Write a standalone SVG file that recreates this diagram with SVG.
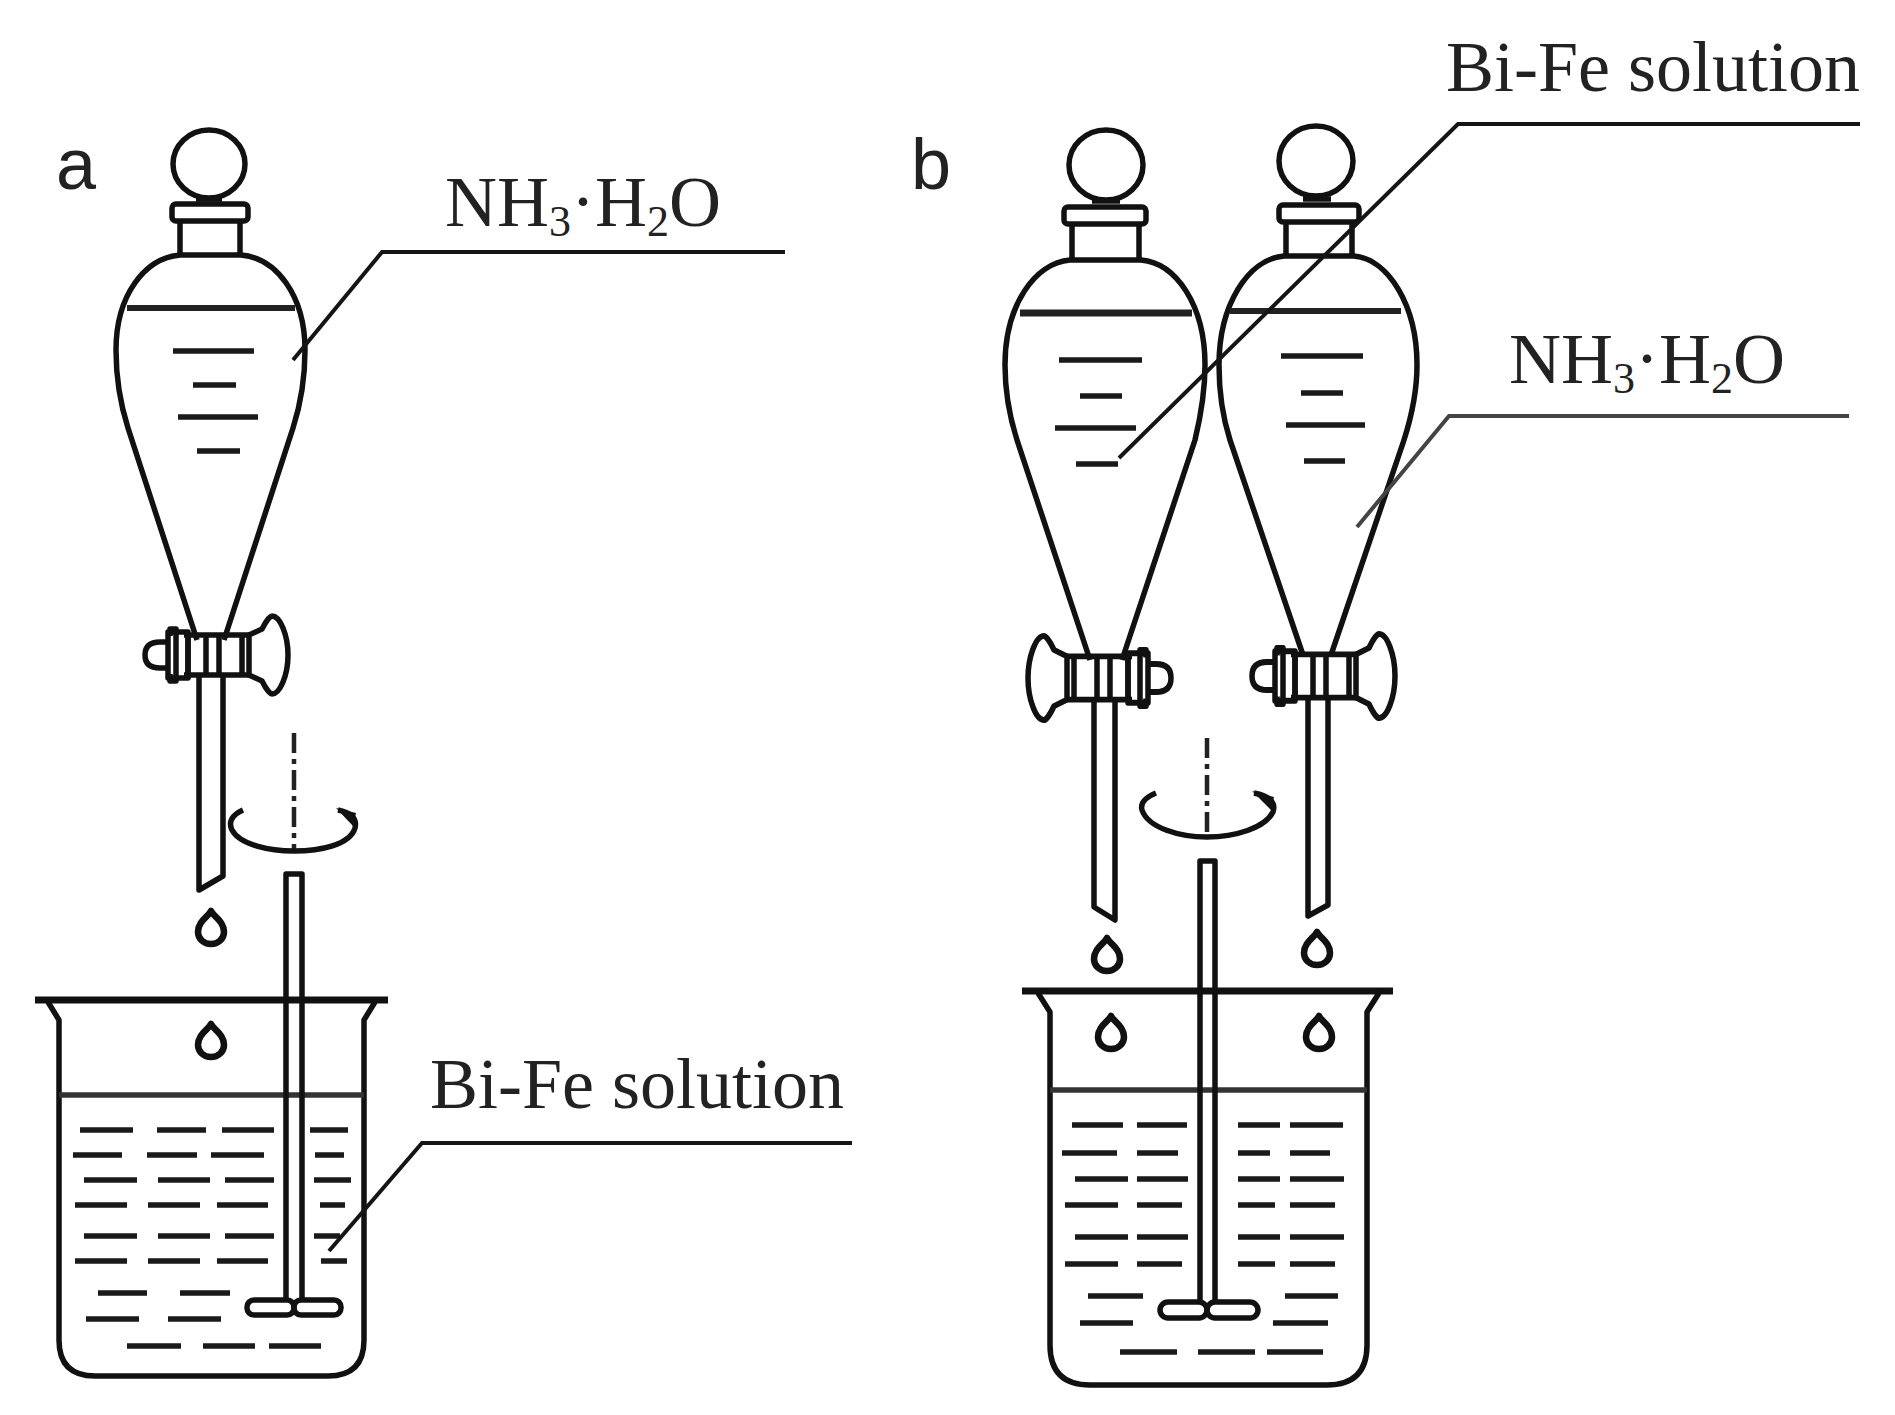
<svg xmlns="http://www.w3.org/2000/svg" width="1895" height="1415" viewBox="0 0 1895 1415">
<style>
.s{fill:none;stroke:#111;stroke-width:5.5;stroke-linejoin:round}
.lq{fill:none;stroke:#222;stroke-width:6}
.d{fill:none;stroke:#1a1a1a;stroke-width:5.5}
.ax{fill:none;stroke:#222;stroke-width:4.5;stroke-dasharray:20 6 5 6}
.ld{fill:none;stroke:#151515;stroke-width:4}
.t{font-family:"Liberation Serif","Times New Roman",serif;font-size:72px;fill:#222}
.sub{font-size:44px}
.h{font-family:"Liberation Sans",Arial,sans-serif;font-size:72px;fill:#222}
.dr{fill:none;stroke:#111;stroke-width:6.5;stroke-linejoin:round}
</style>
<defs>
<path id="drop" class="dr" d="M0,-17C3,-11 13,-7 13,4C13,11 7,16 0,16C-7,16 -13,11 -13,4C-13,-7 -3,-11 0,-17Z"/>
<g id="cock" class="s">
<path d="M-42,-23L-42,23L-22,23L-22,-23Z"/>
<path d="M-42,-13L-50,-13Q-65,-13 -65,0Q-65,13 -50,13L-42,13"/>
<path d="M-40,-19L-40,-26L-34,-26L-34,26L-40,26L-40,19"/>
<path d="M-26,-20L39,-20M-26,20L39,20M-22,-20L-22,20M-4,-20L-4,20M9,-20L9,20M32,-20L32,20"/>
<path d="M39,-20L52,-26C56,-34 60,-39 62,-39C70,-39 78,-20 78,0C78,20 70,39 62,39C60,39 56,34 52,26L39,20Z"/>
</g>
</defs>
<rect width="1895" height="1415" fill="#fff"/>

<g id="funnel-a">
<ellipse class="s" cx="209" cy="164" rx="36" ry="34"/>
<rect class="s" x="172" y="204" width="76" height="17" rx="4"/>
<path class="s" d="M196,199L222,199M180,221L180,255M240,221L240,255"/>
<path class="s" d="M197,640L128,428C120,403 116,375 116,350C116,295 145,258 180,255L241,255C276,258 305,295 305,350C305,375 301,403 293,428L224,640"/>
<path class="lq" d="M127,308L295,308"/>
<path class="d" d="M173,351H254M193,385H236M178,417H258M197,451H240"/>
<use href="#cock" transform="translate(210,655)"/>
<path class="s" d="M199,675L199,890L223,876L223,675"/>
<use href="#drop" x="211" y="928"/>
</g>

<g id="beaker-a">
<path class="s" style="stroke-width:7" d="M35,1000L388,1000"/>
<path class="s" d="M48,1002L59,1020L59,1340Q59,1376 95,1376L328,1376Q364,1376 364,1340L364,1020L375,1002"/>
<path class="s" style="stroke:#333" d="M59,1095L364,1095"/>
<use href="#drop" x="211" y="1041"/>
<path class="d" d="M80,1130H133M157,1130H206M222,1130H274M310,1130H348M73,1155H122M147,1155H197M211,1155H264M315,1155H344M84,1180H137M158,1180H210M225,1180H274M314,1180H351M75,1205H127M148,1205H200M217,1205H268M320,1205H345M84,1236H137M158,1236H210M225,1236H274M314,1236H340M75,1261H127M148,1261H200M217,1261H268M321,1261H347M98,1293H147M180,1293H230M86,1319H139M168,1319H221M127,1346H181M203,1346H255M269,1346H321"/>
</g>

<g id="stirrer-a">
<path class="ax" d="M294,733L294,850"/>
<path class="s" d="M243,810C232,815 228,822 232,830C240,845 270,851 294,851C320,851 350,845 355,828C357,820 353,813 338,810"/>
<path fill="#111" d="M336,808L356,813L353,826Z"/>
<path class="s" d="M286,1299L286,874L302,874L302,1299"/>
<rect class="s" x="247" y="1300" width="47" height="15" rx="7"/>
<rect class="s" x="294" y="1300" width="47" height="15" rx="7"/>
</g>

<g id="funnel-b1">
<ellipse class="s" cx="1106" cy="165" rx="37" ry="35"/>
<rect class="s" x="1064" y="207" width="82" height="17" rx="4"/>
<path class="s" d="M1092,201L1120,201M1072,224L1072,260M1139,224L1139,260"/>
<path class="s" d="M1090,660L1017,440C1009,415 1005,390 1005,365C1005,305 1035,263 1070,260L1141,260C1176,263 1205,305 1205,365C1205,390 1201,415 1195,440L1122,660"/>
<path class="lq" style="stroke-width:7" d="M1020,313L1192,313"/>
<path class="d" d="M1059,360H1142M1080,396H1122M1055,428H1136M1076,464H1118"/>
<use href="#cock" transform="translate(1106,678) scale(-1,1.08)"/>
<path class="s" d="M1094,700L1094,907L1115,920L1115,700"/>
<use href="#drop" x="1107" y="955"/>
</g>

<g id="funnel-b2">
<ellipse class="s" cx="1316" cy="161" rx="37" ry="35"/>
<rect class="s" x="1279" y="205" width="80" height="17" rx="4"/>
<path class="s" d="M1303,199L1331,199M1286,222L1286,256M1352,222L1352,256"/>
<path class="s" d="M1303,655L1230,440C1222,415 1219,390 1219,365C1219,305 1248,259 1284,256L1354,256C1388,259 1417,305 1417,365C1417,390 1412,415 1404,440L1331,655"/>
<path class="lq" d="M1230,311L1401,311"/>
<path class="d" d="M1281,356H1363M1301,393H1343M1286,425H1365M1304,461H1345"/>
<use href="#cock" transform="translate(1317,676) scale(1,1.08)"/>
<path class="s" d="M1308,698L1308,916L1328,905L1328,698"/>
<use href="#drop" x="1317" y="949"/>
</g>

<g id="beaker-b">
<path class="s" style="stroke-width:7" d="M1022,991L1393,991"/>
<path class="s" d="M1038,993L1050,1012L1050,1345Q1050,1385 1090,1385L1327,1385Q1367,1385 1367,1345L1367,1012L1379,993"/>
<path class="s" style="stroke:#333" d="M1050,1090L1367,1090"/>
<use href="#drop" x="1111" y="1033"/>
<use href="#drop" x="1319" y="1033"/>
<path class="d" d="M1072,1125H1123M1137,1125H1187M1238,1125H1280M1290,1125H1343M1062,1153H1117M1137,1153H1178M1238,1153H1270M1290,1153H1330M1075,1179H1128M1137,1179H1188M1238,1179H1280M1290,1179H1344M1065,1205H1118M1137,1205H1182M1238,1205H1275M1290,1205H1335M1075,1237H1128M1137,1237H1188M1238,1237H1280M1290,1237H1344M1065,1264H1118M1137,1264H1182M1238,1264H1275M1290,1264H1335M1088,1296H1143M1285,1296H1338M1080,1323H1133M1273,1323H1328M1120,1352H1177M1198,1352H1255M1267,1352H1323"/>
</g>

<g id="stirrer-b">
<path class="ax" d="M1207,738L1207,837"/>
<path class="s" d="M1156,793C1146,797 1140,803 1142,810C1148,828 1180,837 1207,837C1235,837 1265,828 1273,812C1276,803 1270,796 1254,793"/>
<path fill="#111" d="M1252,791L1274,797L1271,810Z"/>
<path class="s" d="M1200,1301L1200,861L1215,861L1215,1301"/>
<rect class="s" x="1160" y="1302" width="47" height="16" rx="8"/>
<rect class="s" x="1207" y="1302" width="51" height="16" rx="8"/>
</g>

<g id="connectors">
<path class="ld" d="M293,360L382,252L785,252"/>
<path class="ld" d="M329,1251L422,1143L852,1143"/>
<path class="ld" d="M1119,458L1458,124L1860,124"/>
<path class="ld" style="stroke:#444" d="M1357,527L1449,416L1849,416"/>
</g>

<g id="labels">
<text class="h" x="56" y="189">a</text>
<text class="h" x="911" y="189">b</text>
<text class="t" x="445" y="226">NH<tspan class="sub" dy="10">3</tspan><tspan dy="-10">·H</tspan><tspan class="sub" dy="10">2</tspan><tspan dy="-10">O</tspan></text>
<text class="t" x="430" y="1108">Bi-Fe solution</text>
<text class="t" x="1446" y="91">Bi-Fe solution</text>
<text class="t" x="1509" y="383">NH<tspan class="sub" dy="10">3</tspan><tspan dy="-10">·H</tspan><tspan class="sub" dy="10">2</tspan><tspan dy="-10">O</tspan></text>
</g>
</svg>
